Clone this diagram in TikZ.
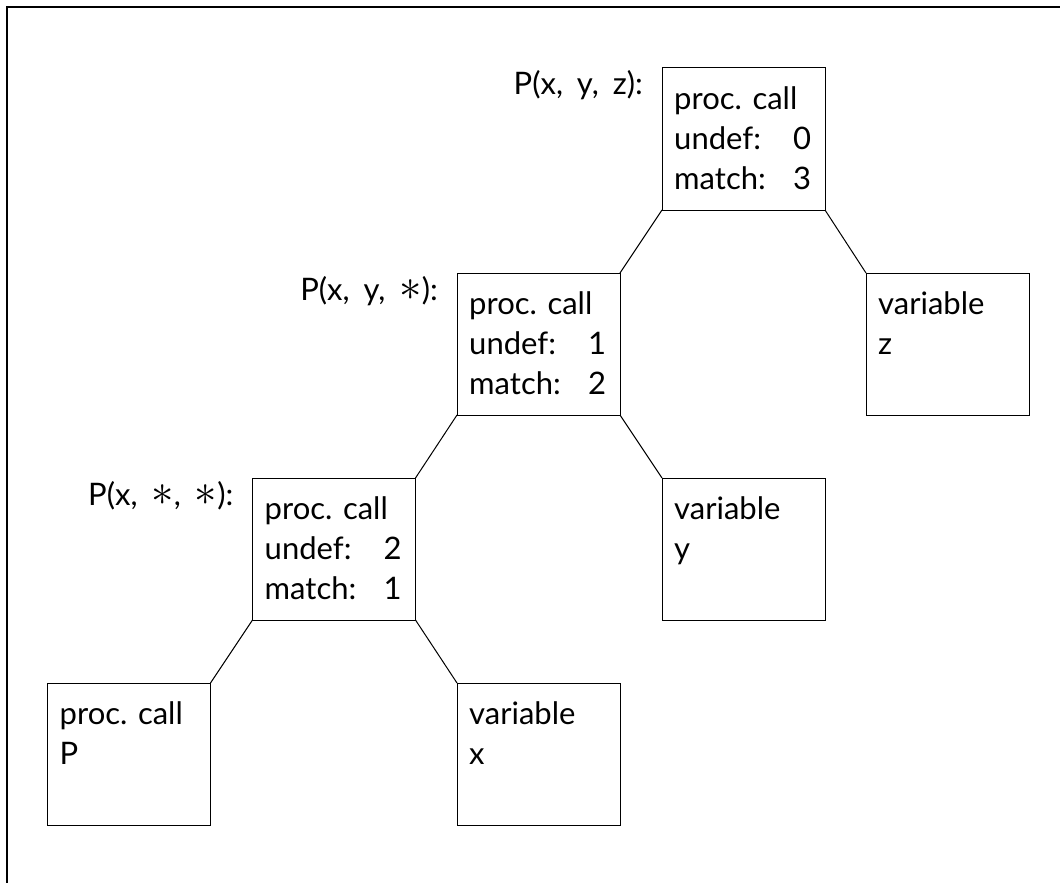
\documentclass[tikz,border=0pt]{standalone}
\usepackage{fontspec}
\setmainfont{Lato}
\usetikzlibrary{calc}
\tikzset{
  box/.style={draw, line width=1pt, minimum width=163pt, minimum height=142pt, inner sep=0pt, outer sep=0pt},
  txt/.style={anchor=base west, inner sep=0pt, font=\fontsize{31}{40}\selectfont},
  lbl/.style={anchor=base east, inner sep=0pt, font=\fontsize{31}{40}\selectfont},
  conn/.style={line width=1pt},
  frame/.style={line width=1.5pt}
}
\newcommand{\ut}[1]{\makebox[119pt][l]{#1}}
\newcommand{\bigast}{\scalebox{1.8}{$\ast$}}
\begin{document}
\begin{tikzpicture}[x=1pt,y=-1pt]
\useasboundingbox (0,0) rectangle (1060,883);
\draw[frame] (7,883) -- (7,7) -- (1060,7);
% boxes
\node[box] (b1) at (743.5,139) {};
\node[box] (b2) at (538.5,344) {};
\node[box] (b3) at (334,549) {};
\node[box] (b4) at (129,754) {};
\node[box] (b5) at (538.5,754) {};
\node[box] (b6) at (743.5,549) {};
\node[box] (b7) at (947.5,344) {};
% texts
\node[txt] (t1) at ($(b1.north west)+(12,41)$) {\begin{tabular}[t]{@{}l@{}}proc. call\\ \ut{undef:}0\\ \ut{match:}3\end{tabular}};
\node[txt] (t2) at ($(b2.north west)+(12,41)$) {\begin{tabular}[t]{@{}l@{}}proc. call\\ \ut{undef:}1\\ \ut{match:}2\end{tabular}};
\node[txt] (t3) at ($(b3.north west)+(12,41)$) {\begin{tabular}[t]{@{}l@{}}proc. call\\ \ut{undef:}2\\ \ut{match:}1\end{tabular}};
\node[txt] (t4) at ($(b4.north west)+(12,41)$) {\begin{tabular}[t]{@{}l@{}}proc. call\\ P\end{tabular}};
\node[txt] (t5) at ($(b5.north west)+(12,41)$) {\begin{tabular}[t]{@{}l@{}}variable\\ x\end{tabular}};
\node[txt] (t6) at ($(b6.north west)+(12,41)$) {\begin{tabular}[t]{@{}l@{}}variable\\ y\end{tabular}};
\node[txt] (t7) at ($(b7.north west)+(12,41)$) {\begin{tabular}[t]{@{}l@{}}variable\\ z\end{tabular}};
% labels
\node[lbl] (l1) at ($(b1.north west)+(-19,26)$) {P(x,\hspace{6pt} y,\hspace{6pt} z):};
\node[lbl] (l2) at ($(b2.north west)+(-19,27)$) {P(x,\hspace{6pt} y,\hspace{6pt} \bigast):};
\node[lbl] (l3) at ($(b3.north west)+(-19,27)$) {P(x,\hspace{6pt} \bigast,\hspace{6pt} \bigast):};
% connectors
\draw[conn] (b1.south west) -- (b2.north east);
\draw[conn] (b1.south east) -- (b7.north west);
\draw[conn] (b2.south west) -- (b3.north east);
\draw[conn] (b2.south east) -- (b6.north west);
\draw[conn] (b3.south west) -- (b4.north east);
\draw[conn] (b3.south east) -- (b5.north west);
\end{tikzpicture}
\end{document}
